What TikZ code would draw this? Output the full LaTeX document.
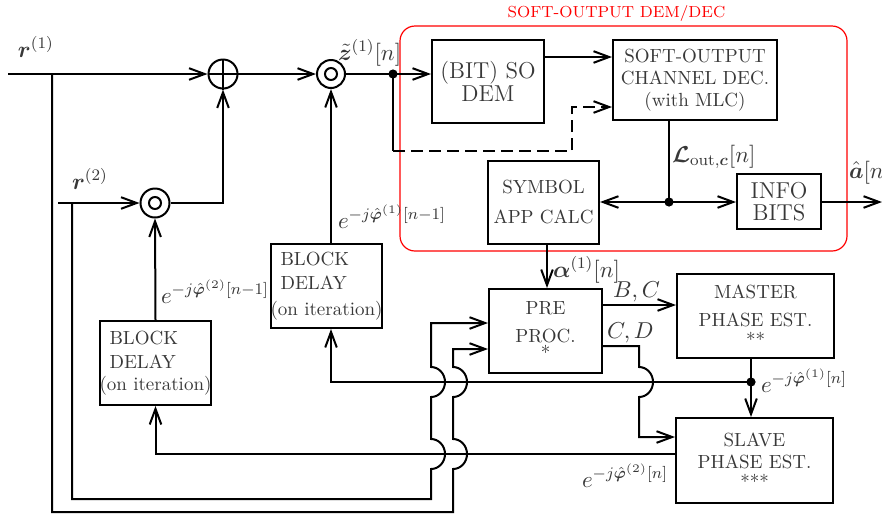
\RequirePackage{fix-cm}
\documentclass[tikz,border=0pt]{standalone}
\usepackage{amsmath,bm}
\usetikzlibrary{arrows.meta,calc}
\newcommand\hopup[2]{-- (#1,{#2+15}) .. controls ({#1+7.7},{#2+15}) and ({#1+14},{#2+8.3}) .. ({#1+14},#2) .. controls ({#1+14},{#2-8.3}) and ({#1+7.7},{#2-15}) .. (#1,{#2-15})}
\newcommand\hopdown[2]{-- (#1,{#2-15}) .. controls ({#1+7.7},{#2-15}) and ({#1+14},{#2-8.3}) .. ({#1+14},#2) .. controls ({#1+14},{#2+8.3}) and ({#1+7.7},{#2+15}) .. (#1,{#2+15})}
\begin{document}
\begin{tikzpicture}[x=0.5pt,y=-0.5pt,line width=1pt,
  arr/.style={-{Straight Barb[length=7.8pt,width=5.8pt]}},
  box/.style={draw,inner sep=0pt,text=black!78,font=\fontsize{9.5}{12}\selectfont,align=center},
  lbl/.style={inner sep=0pt,text=black!78,font=\fontsize{11.5}{14}\selectfont,anchor=base west},
  junc/.style={circle,fill,inner sep=0pt,minimum size=4.6pt},
  sumnode/.style={draw,circle,inner sep=0pt}]
\useasboundingbox (0,0) rectangle (882,515);
% red frame
\node[draw=red,line width=0.6pt,rounded corners=7.5pt,minimum width=223.5pt,minimum height=112.5pt,inner sep=0pt] (sobox) at (623.5,138.5) {};
\node[text=red,font=\fontsize{8}{10}\selectfont,anchor=base,inner sep=0pt] (sotitle) at (616.5,17) {SOFT-OUTPUT DEM/DEC};
% boxes
\node[box,minimum width=56pt,minimum height=41.5pt,font=\fontsize{11.5}{14}\selectfont] (bitdem) at (488,81.5) {(BIT) SO\\[-2.5pt]DEM};
\node[box,minimum width=82pt,minimum height=40pt] (chdec) at (695,80) {SOFT-OUTPUT\\[-1pt]CHANNEL DEC.\\[-1pt](with MLC)};
\node[box,minimum width=55.5pt,minimum height=41.5pt] (symapp) at (543.5,202.5) {SYMBOL\\[3pt]APP CALC};
\node[box,minimum width=42pt,minimum height=27.5pt,font=\fontsize{11.5}{14}\selectfont] (info) at (779,201.5) {INFO\\[-3pt]BITS};
\node[box,minimum width=55.5pt,minimum height=42pt,align=left] (bd1) at (326.5,286) {\hspace{5pt}BLOCK\\\hspace{5pt}DELAY\\[1pt](on iteration)};
\node[box,minimum width=55.5pt,minimum height=42pt,align=left] (bd2) at (155.5,363) {\hspace{5pt}BLOCK\\\hspace{5pt}DELAY\\[-1pt](on iteration)};
\node[box,minimum width=56.5pt,minimum height=42pt] (pre) at (545.5,331) {PRE\\[2pt]PROC.\\[-3.5pt]*};
\node[box,minimum width=78.5pt,minimum height=42pt] (master) at (755.5,316) {MASTER\\[2pt]PHASE EST.\\[-2pt]**};
\node[box,minimum width=78.5pt,minimum height=42.5pt] (slave) at (754.5,460.5) {SLAVE\\[-1pt]PHASE EST.\\[-2pt]***};
% circles
\node[sumnode,minimum size=14.5pt] (adder) at (223,74) {};
\node[sumnode,minimum size=14pt] (mult1) at (331,74) {};
\node[sumnode,minimum size=14.5pt] (mult2) at (155,203) {};
\draw (adder.north) -- (adder.south) (adder.west) -- (adder.east);
\draw (mult1.center) circle[radius=3pt];
\draw (mult2.center) circle[radius=3pt];
% coordinates
\coordinate (r1in) at (8,74);
\coordinate (r1br) at (52,74);
\coordinate (r2in) at (58,203);
\coordinate (r2br) at (72,203);
\coordinate (zdot) at (393,74);
\coordinate (dcorner) at (393,151);
\coordinate (dturn) at (572,107);
\coordinate (Ldot) at (669,202);
\coordinate (aout) at (882,202);
\coordinate (pdot) at (751,382);
% connectors
\draw[arr] (r1in) -- (adder.west);
\draw[arr] (adder.east) -- (mult1.west);
\draw (mult1.east) -- (zdot);
\draw[arr] (zdot) -- (zdot -| bitdem.west);
\draw (zdot) -- (dcorner);
\draw[arr,dash pattern=on 6pt off 3pt] (dcorner) -| (dturn) -- (dturn -| chdec.west);
\draw[arr] (bitdem.east |- 0,57) -- (chdec.west |- 0,57);
\draw (Ldot |- chdec.south) -- (Ldot);
\draw[arr] (Ldot) -- (Ldot -| symapp.east);
\draw[arr] (Ldot) -- (Ldot -| info.west);
\draw[arr] (info.east |- Ldot) -- (aout);
\draw[arr] (symapp.south -| 547,0) -- (pre.north -| 547,0);
\draw[arr] (pre.east |- 0,305) -- (master.west |- 0,305);
\draw[arr] (pre.east |- 0,346) -- (639,346) \hopdown{639}{382} -- (639,437) -- (slave.west |- 0,437);
\draw (master.south -| pdot) -- (pdot);
\draw[arr] (pdot) -- (pdot |- slave.north);
\draw[arr] (pdot) -| (mult1 |- bd1.south);
\draw[arr] (mult1 |- bd1.north) -- (mult1.south);
\draw[arr] (slave.west |- 0,454) -| (bd2.south);
\draw[arr] (bd2.north) -- (mult2.south);
\draw[arr] (r2in) -- (mult2.west);
\draw[arr] (mult2.east) -| (adder.south);
\draw[arr] (r2br) -- (72,499) -- (431,499) \hopup{431}{454} \hopup{431}{382} -- (431,323) -- (pre.west |- 0,323);
\draw[arr] (r1br) -- (52,512) -- (453,512) \hopup{453}{454} \hopup{453}{382} -- (453,349) -- (pre.west |- 0,349);
\node[junc] (zdotm) at (zdot) {};
\node[junc] (Ldotm) at (Ldot) {};
\node[junc] (pdotm) at (pdot) {};
% labels
\node[lbl] (r1lbl) at (17,57) {$\bm r^{(1)}$};
\node[lbl] (r2lbl) at (71,189) {$\bm r^{(2)}$};
\node[lbl] (zlbl) at (337,60) {$\tilde{\bm z}^{(1)}[n]$};
\node[lbl] (e1lbl) at (337,228) {$e^{-j\hat{\bm\varphi}^{(1)}[n-1]}$};
\node[lbl] (e2lbl) at (160,303) {$e^{-j\hat{\bm\varphi}^{(2)}[n-1]}$};
\node[lbl] (Llbl) at (671,162) {$\bm{\mathcal L}_{\mathrm{out},\bm c}[n]$};
\node[lbl] (albl) at (848,178) {$\hat{\bm a}[n]$};
\node[lbl] (alphalbl) at (552,277) {$\bm\alpha^{(1)}[n]$};
\node[lbl] (bclbl) at (612,297) {$B,C$};
\node[lbl] (cdlbl) at (606,338) {$C,D$};
\node[lbl] (e3lbl) at (760,392) {$e^{-j\hat{\bm\varphi}^{(1)}[n]}$};
\node[lbl] (e4lbl) at (581,487) {$e^{-j\hat{\bm\varphi}^{(2)}[n]}$};
\end{tikzpicture}
\end{document}
